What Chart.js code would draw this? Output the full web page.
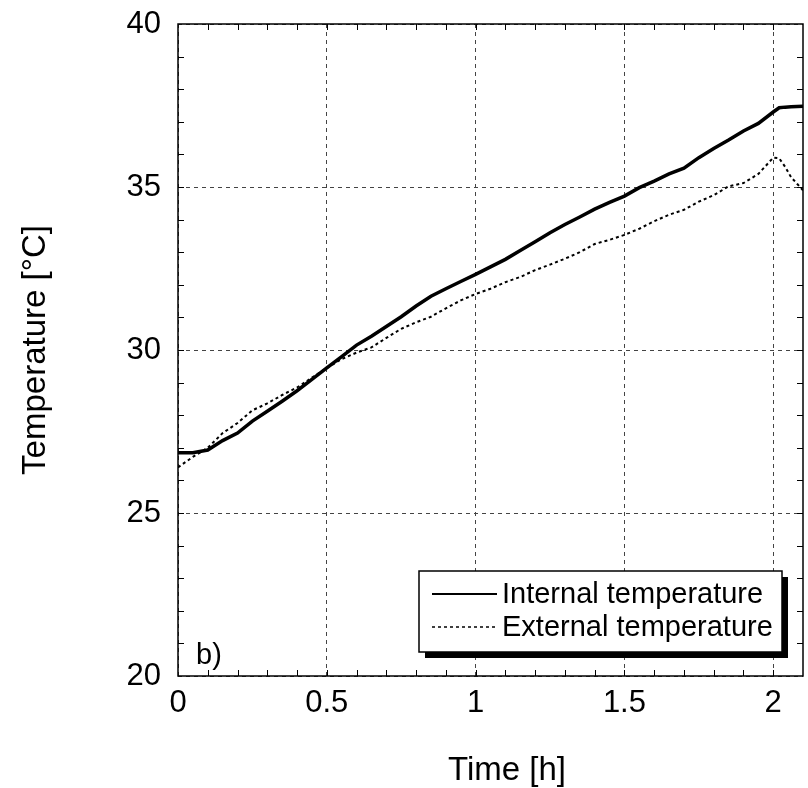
<!DOCTYPE html>
<html>
<head>
<meta charset="utf-8">
<script src="https://cdn.jsdelivr.net/npm/chart.js@4.4.1/dist/chart.umd.min.js"></script>
<style>
  body { margin: 0; background: #fff; }
  canvas { display: block; }
</style>
</head>
<body>
<canvas id="tempChart" width="808" height="788"></canvas>
<script>
const times = [0, 0.05, 0.1, 0.15, 0.2, 0.25, 0.3, 0.35, 0.4, 0.45, 0.5, 0.55, 0.6, 0.65, 0.7, 0.75,
    0.8, 0.85, 0.9, 0.95, 1.0, 1.05, 1.1, 1.15, 1.2, 1.25, 1.3, 1.35, 1.4, 1.45, 1.5, 1.55, 1.6, 1.65,
    1.7, 1.75, 1.8, 1.85, 1.9, 1.95, 2.0, 2.02, 2.04, 2.06, 2.08, 2.1];
const internalTemp = [26.85, 26.85, 26.93, 27.22, 27.45, 27.82, 28.12, 28.43, 28.75, 29.1, 29.45, 29.8,
    30.15, 30.42, 30.72, 31.02, 31.35, 31.65, 31.88, 32.1, 32.32, 32.55, 32.78, 33.05, 33.32, 33.6,
    33.85, 34.08, 34.32, 34.53, 34.72, 34.98, 35.18, 35.4, 35.58, 35.9, 36.18, 36.44, 36.72, 36.95,
    37.3, 37.43, 37.45, 37.46, 37.47, 37.48];
const externalTemp = [26.4, 26.72, 27.0, 27.45, 27.76, 28.15, 28.36, 28.62, 28.85, 29.15, 29.45, 29.72,
    29.92, 30.08, 30.37, 30.65, 30.85, 31.02, 31.28, 31.52, 31.72, 31.88, 32.08, 32.24, 32.45, 32.62,
    32.8, 33.0, 33.25, 33.38, 33.53, 33.72, 33.95, 34.15, 34.3, 34.55, 34.75, 35.02, 35.12, 35.4,
    35.9, 35.88, 35.62, 35.3, 35.1, 34.9];
const seriesLabels = ['Internal temperature', 'External temperature'];
const xTicks = [0, 0.5, 1, 1.5, 2];
const yTicks = [20, 25, 30, 35, 40];

const FONT = '"Liberation Sans", Arial, sans-serif';

function toPoints(xs, ys) {
    return xs.map(function(x, i) { return {x: x, y: ys[i]}; });
}

// frame, inward minor ticks, titles, panel label and boxed legend
const decorations = {
    id: 'decorations',
    afterDraw: function(chart) {
        const ctx = chart.ctx;
        const a = chart.chartArea;
        const xs = chart.scales.x;
        const ys = chart.scales.y;
        ctx.save();
        ctx.strokeStyle = '#000';
        ctx.lineWidth = 1.5;
        ctx.setLineDash([]);
        ctx.strokeRect(a.left, a.top, a.right - a.left, a.bottom - a.top);

        ctx.lineWidth = 1;
        ctx.beginPath();
        for (let i = 1; i <= 20; i++) {
            const px = Math.round(xs.getPixelForValue(i / 10)) + 0.5;
            ctx.moveTo(px, a.bottom); ctx.lineTo(px, a.bottom - 6);
            ctx.moveTo(px, a.top); ctx.lineTo(px, a.top + 6);
        }
        for (let v = 21; v < 40; v++) {
            const py = Math.round(ys.getPixelForValue(v)) + 0.5;
            ctx.moveTo(a.left, py); ctx.lineTo(a.left + 6, py);
            ctx.moveTo(a.right, py); ctx.lineTo(a.right - 6, py);
        }
        ctx.stroke();

        ctx.fillStyle = '#000';
        ctx.font = '33px ' + FONT;
        ctx.textAlign = 'center';
        ctx.textBaseline = 'middle';
        ctx.fillText('Time [h]', 507, 771);
        ctx.save();
        ctx.translate(36, 350);
        ctx.rotate(-Math.PI / 2);
        ctx.fillText('Temperature [\u00B0C]', 0, 0);
        ctx.restore();

        ctx.font = '29px ' + FONT;
        ctx.textAlign = 'left';
        ctx.fillText('b)', 196, 656);

        // legend box with drop shadow
        const bx = 419, by = 571, bw = 363, bh = 81;
        ctx.fillStyle = '#000';
        ctx.fillRect(bx + 6, by + 6, bw, bh);
        ctx.fillStyle = '#fff';
        ctx.fillRect(bx, by, bw, bh);
        ctx.strokeStyle = '#000';
        ctx.lineWidth = 1.5;
        ctx.strokeRect(bx, by, bw, bh);

        const rows = [594, 627];
        chart.data.datasets.forEach(function(ds, i) {
            ctx.beginPath();
            ctx.lineWidth = i === 0 ? 2 : 1.5;
            ctx.setLineDash(ds.borderDash || []);
            ctx.moveTo(432, rows[i]);
            ctx.lineTo(497, rows[i]);
            ctx.stroke();
            ctx.setLineDash([]);
            ctx.fillStyle = '#000';
            ctx.font = '29px ' + FONT;
            ctx.textBaseline = 'middle';
            ctx.fillText(ds.label, 502, rows[i] + 1);
        });
        ctx.restore();
    }
};

const ctx = document.getElementById('tempChart').getContext('2d');
new Chart(ctx, {
    type: 'line',
    data: {
        datasets: [{
            label: seriesLabels[0],
            data: toPoints(times, internalTemp),
            borderColor: '#000',
            borderWidth: 3.5,
            pointRadius: 0,
            tension: 0
        }, {
            label: seriesLabels[1],
            data: toPoints(times, externalTemp),
            borderColor: '#000',
            borderWidth: 2,
            borderDash: [3, 3],
            pointRadius: 0,
            tension: 0
        }]
    },
    options: {
        responsive: false,
        animation: false,
        layout: { padding: { top: 24, right: 5, left: 0, bottom: 0 } },
        plugins: { legend: { display: false }, tooltip: { enabled: false } },
        scales: {
            x: {
                type: 'linear',
                min: 0,
                max: 2.1,
                afterBuildTicks: function(scale) {
                    scale.ticks = xTicks.map(function(v) { return {value: v}; });
                },
                afterFit: function(scale) {
                    scale.height = 112;
                    scale.paddingLeft = 0;
                    scale.paddingRight = 0;
                },
                ticks: {
                    color: '#000', padding: 9, font: { family: FONT, size: 31 },
                    callback: function(v) { return String(v); }
                },
                grid: { color: '#444', lineWidth: 1, drawTicks: false },
                border: { display: false, dash: [4, 4] }
            },
            y: {
                min: 20,
                max: 40,
                afterBuildTicks: function(scale) {
                    scale.ticks = yTicks.map(function(v) { return {value: v}; });
                },
                afterFit: function(scale) {
                    scale.width = 178;
                    scale.paddingTop = 0;
                    scale.paddingBottom = 0;
                },
                ticks: {
                    color: '#000', padding: 17, font: { family: FONT, size: 31 },
                    callback: function(v) { return String(v); }
                },
                grid: { color: '#444', lineWidth: 1, drawTicks: false },
                border: { display: false, dash: [4, 4] }
            }
        }
    },
    plugins: [decorations]
});
</script>
</body>
</html>
